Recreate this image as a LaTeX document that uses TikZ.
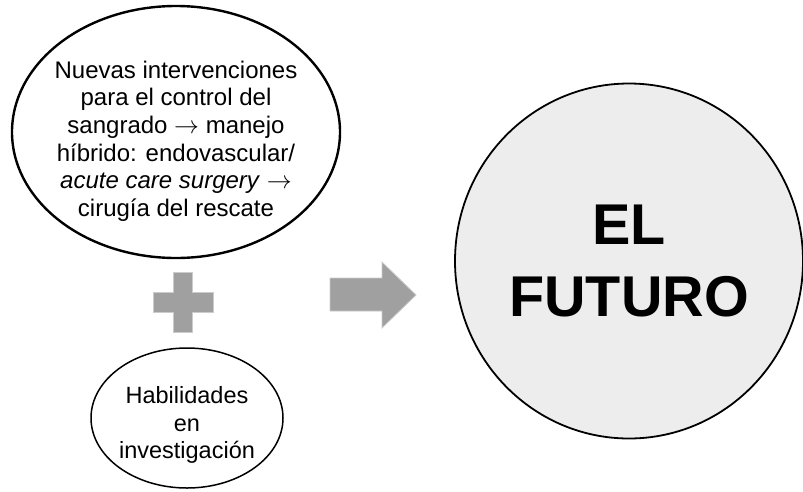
\documentclass[tikz,border=0pt]{standalone}
\usepackage{fontspec}
\setmainfont{Liberation Sans}
\usetikzlibrary{shapes.geometric}
\definecolor{plusgray}{RGB}{160,160,160}
\definecolor{futurofill}{RGB}{237,237,237}
\tikzset{
  bubble/.style={draw, ellipse, inner sep=0pt},
  bubbletext/.style={align=center, inner sep=0pt, font=\fontsize{24}{27.6}\selectfont},
  grayshape/.style={fill=plusgray, draw=plusgray!55, line width=0.8pt}
}
\begin{document}
\begin{tikzpicture}[x=1pt,y=-1pt]
\useasboundingbox (0,0) rectangle (803,491);
\node [bubble, line width=2.4pt, minimum width=328pt, minimum height=252pt] (nuevas) at (176,132) {};
\node [bubbletext] (nuevastxt) at ([yshift=-9pt]nuevas.center)
  {Nuevas intervenciones\\ para el control del\\ sangrado $\rightarrow$ manejo\\
   híbrido: endovascular/\\ \textit{acute care surgery} $\rightarrow$\\ cirugía del rescate};
\draw [grayshape] (173,272) coordinate (plustop)
  -- ++(19,0) -- ++(0,20) -- ++(21,0) -- ++(0,20) -- ++(-21,0) -- ++(0,20)
  -- ++(-19,0) -- ++(0,-20) -- ++(-20,0) -- ++(0,-20) -- ++(20,0) -- cycle;
\node [bubble, line width=1.5pt, minimum width=192pt, minimum height=140pt] (habilidades) at (187,418) {};
\node [bubbletext, font=\fontsize{23.5}{27.4}\selectfont] (habilidadestxt) at ([yshift=-7pt]habilidades.center)
  {Habilidades\\ en\\ investigación};
\draw [grayshape] (330,278) coordinate (flecha)
  -- ++(52,0) -- ++(0,-16) -- ++(34,33) -- ++(-34,33) -- ++(0,-17) -- ++(-52,0) -- cycle;
\node [bubble, fill=futurofill, line width=1.8pt, minimum width=348pt, minimum height=355pt] (futuro) at (629,261) {};
\node [bubbletext, font=\fontsize{57.5}{72}\bfseries] (futurotxt) at (futuro.center) {EL\\ FUTURO};
\end{tikzpicture}
\end{document}
